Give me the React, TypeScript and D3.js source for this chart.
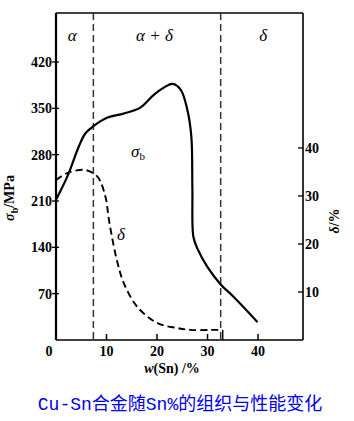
import React from 'react';
import * as d3 from 'd3';

// σb (MPa) vs w(Sn) %
const sigmaSn = [0, 2.3, 4.5, 5.8, 7.4, 10.2, 13.4, 16.7, 19.3, 21.5, 23.1, 24.7, 26.0, 26.8, 27.0, 27.2, 28, 30, 32.6, 35.2, 39.9];
const sigmaVals = [212, 248, 292, 312, 323, 336, 342, 351, 370, 382, 387, 378, 348, 307, 230, 156, 138, 110, 84, 65, 27];

// δ (%) vs w(Sn) %
const deltaSn = [0, 2.3, 5.8, 8.2, 9.8, 10.4, 11.2, 12.2, 13.4, 16.1, 20.1, 24, 26.6, 30.6, 33];
const deltaVals = [33.3, 34.8, 35.4, 34, 29.8, 25.6, 20.8, 16, 11.9, 6.9, 3.5, 2.5, 2.1, 2.1, 2.1];

const xTicks = [0, 10, 20, 30, 40];
const sigmaTicks = [70, 140, 210, 280, 350, 420];
const deltaTicks = [10, 20, 30, 40];
const phaseBounds = [7.4, 32.6];
const phases = [
    { label: 'α', at: 3.2 },
    { label: 'α + δ', at: 19.5 },
    { label: 'δ', at: 41 },
];
const caption = 'Cu-Sn合金随Sn%的组织与性能变化';

export default function App() {
    const width = 354;
    const height = 421;
    const left = 56, right = 303, top = 13, bottom = 340;

    const x = d3.scaleLinear().domain([0, 48.9]).range([left, right]);
    const yS = d3.scaleLinear().domain([0, 494]).range([bottom, top]);
    const yD = d3.scaleLinear().domain([0, 68.1]).range([bottom, top]);

    const sigmaLine = d3.line<number>()
        .x((_, i) => x(sigmaSn[i]))
        .y(d => yS(d))
        .curve(d3.curveCatmullRom.alpha(0.5));
    const deltaLine = d3.line<number>()
        .x((_, i) => x(deltaSn[i]))
        .y(d => yD(d))
        .curve(d3.curveCatmullRom.alpha(0.5));

    const serif = '"Liberation Serif", "DejaVu Serif", serif';

    return (
        <svg width={width} height={height} style={{ position: 'absolute', left: 0, top: 0, background: '#fff' }}>
            {/* frame */}
            <g stroke="#000" fill="none">
                <line x1={left} x2={left} y1={top} y2={bottom} strokeWidth={2.2} />
                <line x1={left} x2={right} y1={bottom} y2={bottom} strokeWidth={1.6} />
                <line x1={left} x2={right} y1={top} y2={top} strokeWidth={1.6} />
                <line x1={right} x2={right} y1={top} y2={bottom} strokeWidth={1.6} />
            </g>

            {/* phase boundaries */}
            {phaseBounds.map(b => (
                <line key={b} x1={x(b)} x2={x(b)} y1={top} y2={bottom}
                    stroke="#333" strokeWidth={1.5} strokeDasharray="7,4" />
            ))}
            {phases.map(p => (
                <text key={p.label} x={x(p.at)} y={41} textAnchor="middle"
                    fontFamily={serif} fontStyle="italic" fontSize={17}>{p.label}</text>
            ))}

            {/* x axis */}
            {xTicks.map(t => (
                <g key={t}>
                    {t > 0 && <line x1={x(t)} x2={x(t)} y1={bottom} y2={bottom - 6} stroke="#000" strokeWidth={1.5} />}
                    <text x={x(t) + (t === 0 ? -7 : 0)} y={356} textAnchor="middle"
                        fontFamily={serif} fontWeight="bold" fontSize={14}>{t}</text>
                </g>
            ))}
            <text x={172} y={373} textAnchor="middle" fontFamily={serif} fontWeight="bold" fontSize={14}>
                <tspan fontStyle="italic">w</tspan>(Sn) /%
            </text>

            {/* left axis */}
            {sigmaTicks.map(t => (
                <g key={t}>
                    <line x1={left - 4} x2={left + 3} y1={yS(t)} y2={yS(t)} stroke="#000" strokeWidth={1.3} />
                    <text x={left - 4} y={yS(t) + 5} textAnchor="end" fontFamily={serif} fontWeight="bold" fontSize={14}>{t}</text>
                </g>
            ))}
            <text transform={`translate(14,198) rotate(-90)`} textAnchor="middle" fontFamily={serif} fontWeight="bold" fontSize={14}>
                <tspan fontStyle="italic">σ</tspan><tspan fontSize={10} dy={4}>b</tspan><tspan dy={-4}>/MPa</tspan>
            </text>

            {/* right axis */}
            {deltaTicks.map(t => (
                <g key={t}>
                    <line x1={right - 5} x2={right} y1={yD(t)} y2={yD(t)} stroke="#000" strokeWidth={1.3} />
                    <text x={right + 2} y={yD(t) + 5} textAnchor="start" fontFamily={serif} fontWeight="bold" fontSize={14}>{t}</text>
                </g>
            ))}
            <text transform={`translate(339,221) rotate(-90)`} textAnchor="middle" fontFamily={serif} fontWeight="bold" fontSize={14}>
                <tspan fontStyle="italic">δ</tspan>/%
            </text>

            {/* curves */}
            <path d={sigmaLine(sigmaVals) ?? ''} fill="none" stroke="#000" strokeWidth={2.2} />
            <path d={deltaLine(deltaVals) ?? ''} fill="none" stroke="#000" strokeWidth={1.9} strokeDasharray="7,4" />
            <line x1={x(33)} x2={x(33)} y1={yD(2.1)} y2={bottom} stroke="#000" strokeWidth={1.5} />

            <text x={131} y={157} fontFamily={serif} fontStyle="italic" fontSize={17}>
                σ<tspan fontSize={11} dy={3} fontStyle="normal">b</tspan>
            </text>
            <text x={117} y={240} fontFamily={serif} fontStyle="italic" fontSize={17}>δ</text>

            <text x={180} y={410} textAnchor="middle" fill="#0000ee"
                fontFamily='"Liberation Mono", "Noto Sans CJK SC", monospace' fontSize={18}>{caption}</text>
        </svg>
    );
}
